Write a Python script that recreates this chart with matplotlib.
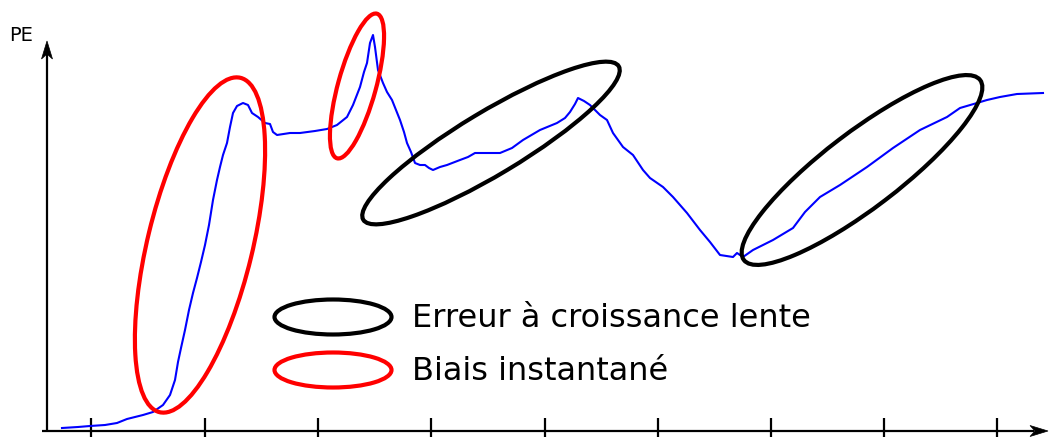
import matplotlib.pyplot as plt
from matplotlib.patches import Ellipse, Polygon

# PE over time (arbitrary units, origin of the axes at (47, 0))
t = [62, 78, 90, 105, 117, 127, 143, 153, 163, 170, 175, 178, 181, 185, 189, 193,
     197, 201, 205, 209, 213, 217, 220, 223, 227, 230, 233, 237, 243, 248, 252, 258,
     265, 270, 273, 277, 290, 300, 315, 327, 337, 347, 353, 360, 364, 367, 370, 373,
     375, 378, 383, 387, 392, 396, 400, 404, 407, 411, 415, 420, 425, 429, 433, 440,
     447, 460, 468, 475, 500, 512, 523, 540, 557, 565, 570, 575, 578, 584, 590, 600,
     607, 613, 623, 633, 643, 650, 663, 673, 687, 700, 710, 720, 733, 737, 743, 753,
     773, 793, 805, 820, 840, 867, 893, 920, 947, 960, 977, 987, 1000, 1017, 1043]
pe = [3, 4, 5, 6, 8, 12, 16, 19, 26, 36, 51, 69, 83, 101, 121, 138,
      153, 169, 186, 206, 231, 251, 264, 276, 288, 304, 318, 325, 328, 326, 318, 314,
      308, 307, 299, 296, 298, 298, 300, 302, 306, 314, 326, 344, 359, 368, 388, 396,
      384, 361, 348, 339, 331, 321, 311, 299, 288, 279, 268, 266, 266, 263, 261, 264,
      266, 271, 274, 278, 278, 283, 291, 301, 308, 313, 319, 327, 333, 330, 326, 316,
      311, 298, 284, 276, 261, 253, 244, 234, 218, 201, 189, 176, 174, 178, 174, 181,
      191, 203, 219, 234, 246, 264, 283, 301, 314, 323, 328, 331, 334, 337, 338]

t_ticks = [91, 205, 318, 431, 545, 658, 771, 884, 997]

# highlighted zones: (centre t, centre pe, length, thickness, angle)
slow_zones = [(491, 288, 298, 63, 31.0), (862, 261, 297, 76, 37.3)]
jump_zones = [(200, 186, 344, 105, 76.4), (357, 345, 150, 38, 74.6)]

legend_labels = ["Erreur à croissance lente", "Biais instantané"]

fig = plt.figure(figsize=(10.5, 4.48), dpi=100)
ax = fig.add_axes([0, 0, 1, 1])
ax.set_xlim(0, 1050)
ax.set_ylim(-17, 431)
ax.axis('off')


def stealth_head(tip, direction, length=18, half_width=5.5, notch=13):
    dx, dy = direction
    px, py = -dy, dx
    x0, y0 = tip
    pts = [(x0, y0),
           (x0 - dx * length + px * half_width, y0 - dy * length + py * half_width),
           (x0 - dx * notch, y0 - dy * notch),
           (x0 - dx * length - px * half_width, y0 - dy * length - py * half_width)]
    ax.add_patch(Polygon(pts, closed=True, fc='black', ec='black', lw=0.5))


# axes with arrow heads
ax.plot([42, 1034], [0, 0], color='black', lw=1.6, solid_capstyle='butt')
ax.plot([47, 47], [-1, 377], color='black', lw=1.6, solid_capstyle='butt')
stealth_head((1048, 0), (1, 0))
stealth_head((47, 390), (0, 1))
ax.vlines(t_ticks, -6, 13, colors='black', lw=1.6)
ax.text(9, 390, "PE", fontsize=14, ha='left', va='baseline')

ax.plot(t, pe, color='#0000ff', lw=1.5, zorder=2)

for cx, cy, w, h, ang in slow_zones:
    ax.add_patch(Ellipse((cx, cy), w, h, angle=ang, fill=False,
                         ec='black', lw=3, zorder=3))
for cx, cy, w, h, ang in jump_zones:
    ax.add_patch(Ellipse((cx, cy), w, h, angle=ang, fill=False,
                         ec='#ff0000', lw=3, zorder=3))

# legend
for i, (label, col) in enumerate(zip(legend_labels, ['black', '#ff0000'])):
    y = 114 - 53 * i
    ax.add_patch(Ellipse((333, y), 117, 35, fill=False, ec=col, lw=3))
    ax.text(412, y - 10, label, fontsize=23, ha='left', va='baseline')

fig.savefig('out.png', dpi=100)
